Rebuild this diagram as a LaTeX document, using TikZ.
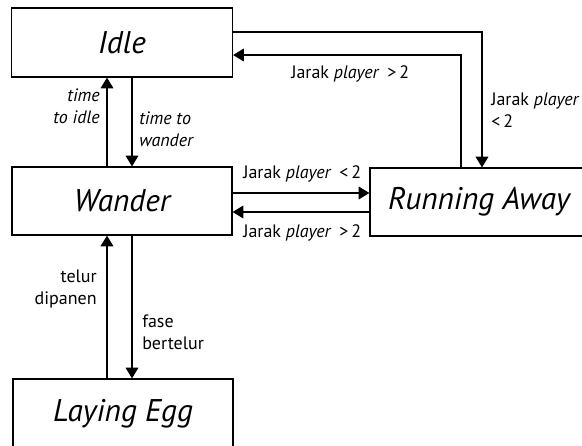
\documentclass[tikz,border=0pt]{standalone}
\usepackage{fontspec}
\setmainfont{PT Sans}
\usetikzlibrary{arrows.meta}
\begin{document}
\begin{tikzpicture}[x=0.75pt,y=-0.75pt,
  state/.style={draw,line width=0.9pt,rectangle,inner sep=0pt,font=\fontsize{23.5}{28}\selectfont\itshape},
  arr/.style={line width=0.9pt,-{Triangle[length=8pt,width=9.5pt]}},
  lbl/.style={inner sep=0pt,font=\fontsize{13.5}{16.5}\selectfont}]
\useasboundingbox (0,0) rectangle (582,446);
\clip (0,0) rectangle (582,446);
\node[state,minimum width=221*0.75pt,minimum height=69*0.75pt] (idle) at (122,42.5) {Idle};
\node[state,minimum width=220*0.75pt,minimum height=68*0.75pt] (wander) at (122,201) {Wander};
\node[state,minimum width=218*0.75pt,minimum height=68*0.75pt] (run) at (479,202) {Running Away};
\node[state,minimum width=220*0.75pt,minimum height=70*0.75pt] (egg) at (123,414) {Laying Egg};
% Idle <-> Running Away
\draw[arr] (idle.east |- 0,32) -| (run.north -| 482,0);
\draw[arr] (run.north -| 461,0) |- (idle.east |- 0,55);
% Wander <-> Running Away
\draw[arr] (wander.east |- 0,193) -- (run.west |- 0,193);
\draw[arr] (run.west |- 0,212) -- (wander.east |- 0,212);
% Idle <-> Wander
\draw[arr] (wander.north -| 107,0) -- (idle.south -| 107,0);
\draw[arr] (idle.south -| 132,0) -- (wander.north -| 132,0);
% Wander <-> Laying Egg
\draw[arr] (egg.north -| 107,0) -- (wander.south -| 107,0);
\draw[arr] (wander.south -| 132,0) -- (egg.north -| 132,0);
% labels (base anchor = last line)
\node[lbl,anchor=base east,align=right] (l1) at (100,123) {\itshape time\\\itshape to idle};
\node[lbl,anchor=base west,align=left] (l2) at (139,146) {\itshape time to\\\itshape wander};
\node[lbl,anchor=base west] (l3) at (291,78) {Jarak \textit{player} \,>\,2};
\node[lbl,anchor=base west,align=left] (l4) at (491,127) {Jarak \textit{player}\\<\,2};
\node[lbl,anchor=base west] (l5) at (243,178) {Jarak \textit{player} \,<\,2};
\node[lbl,anchor=base west] (l6) at (243,237) {Jarak \textit{player} \,>\,2};
\node[lbl,anchor=base east,align=right] (l7) at (97,304) {telur\\dipanen};
\node[lbl,anchor=base west,align=left] (l8) at (142,349) {fase\\bertelur};
\end{tikzpicture}
\end{document}
